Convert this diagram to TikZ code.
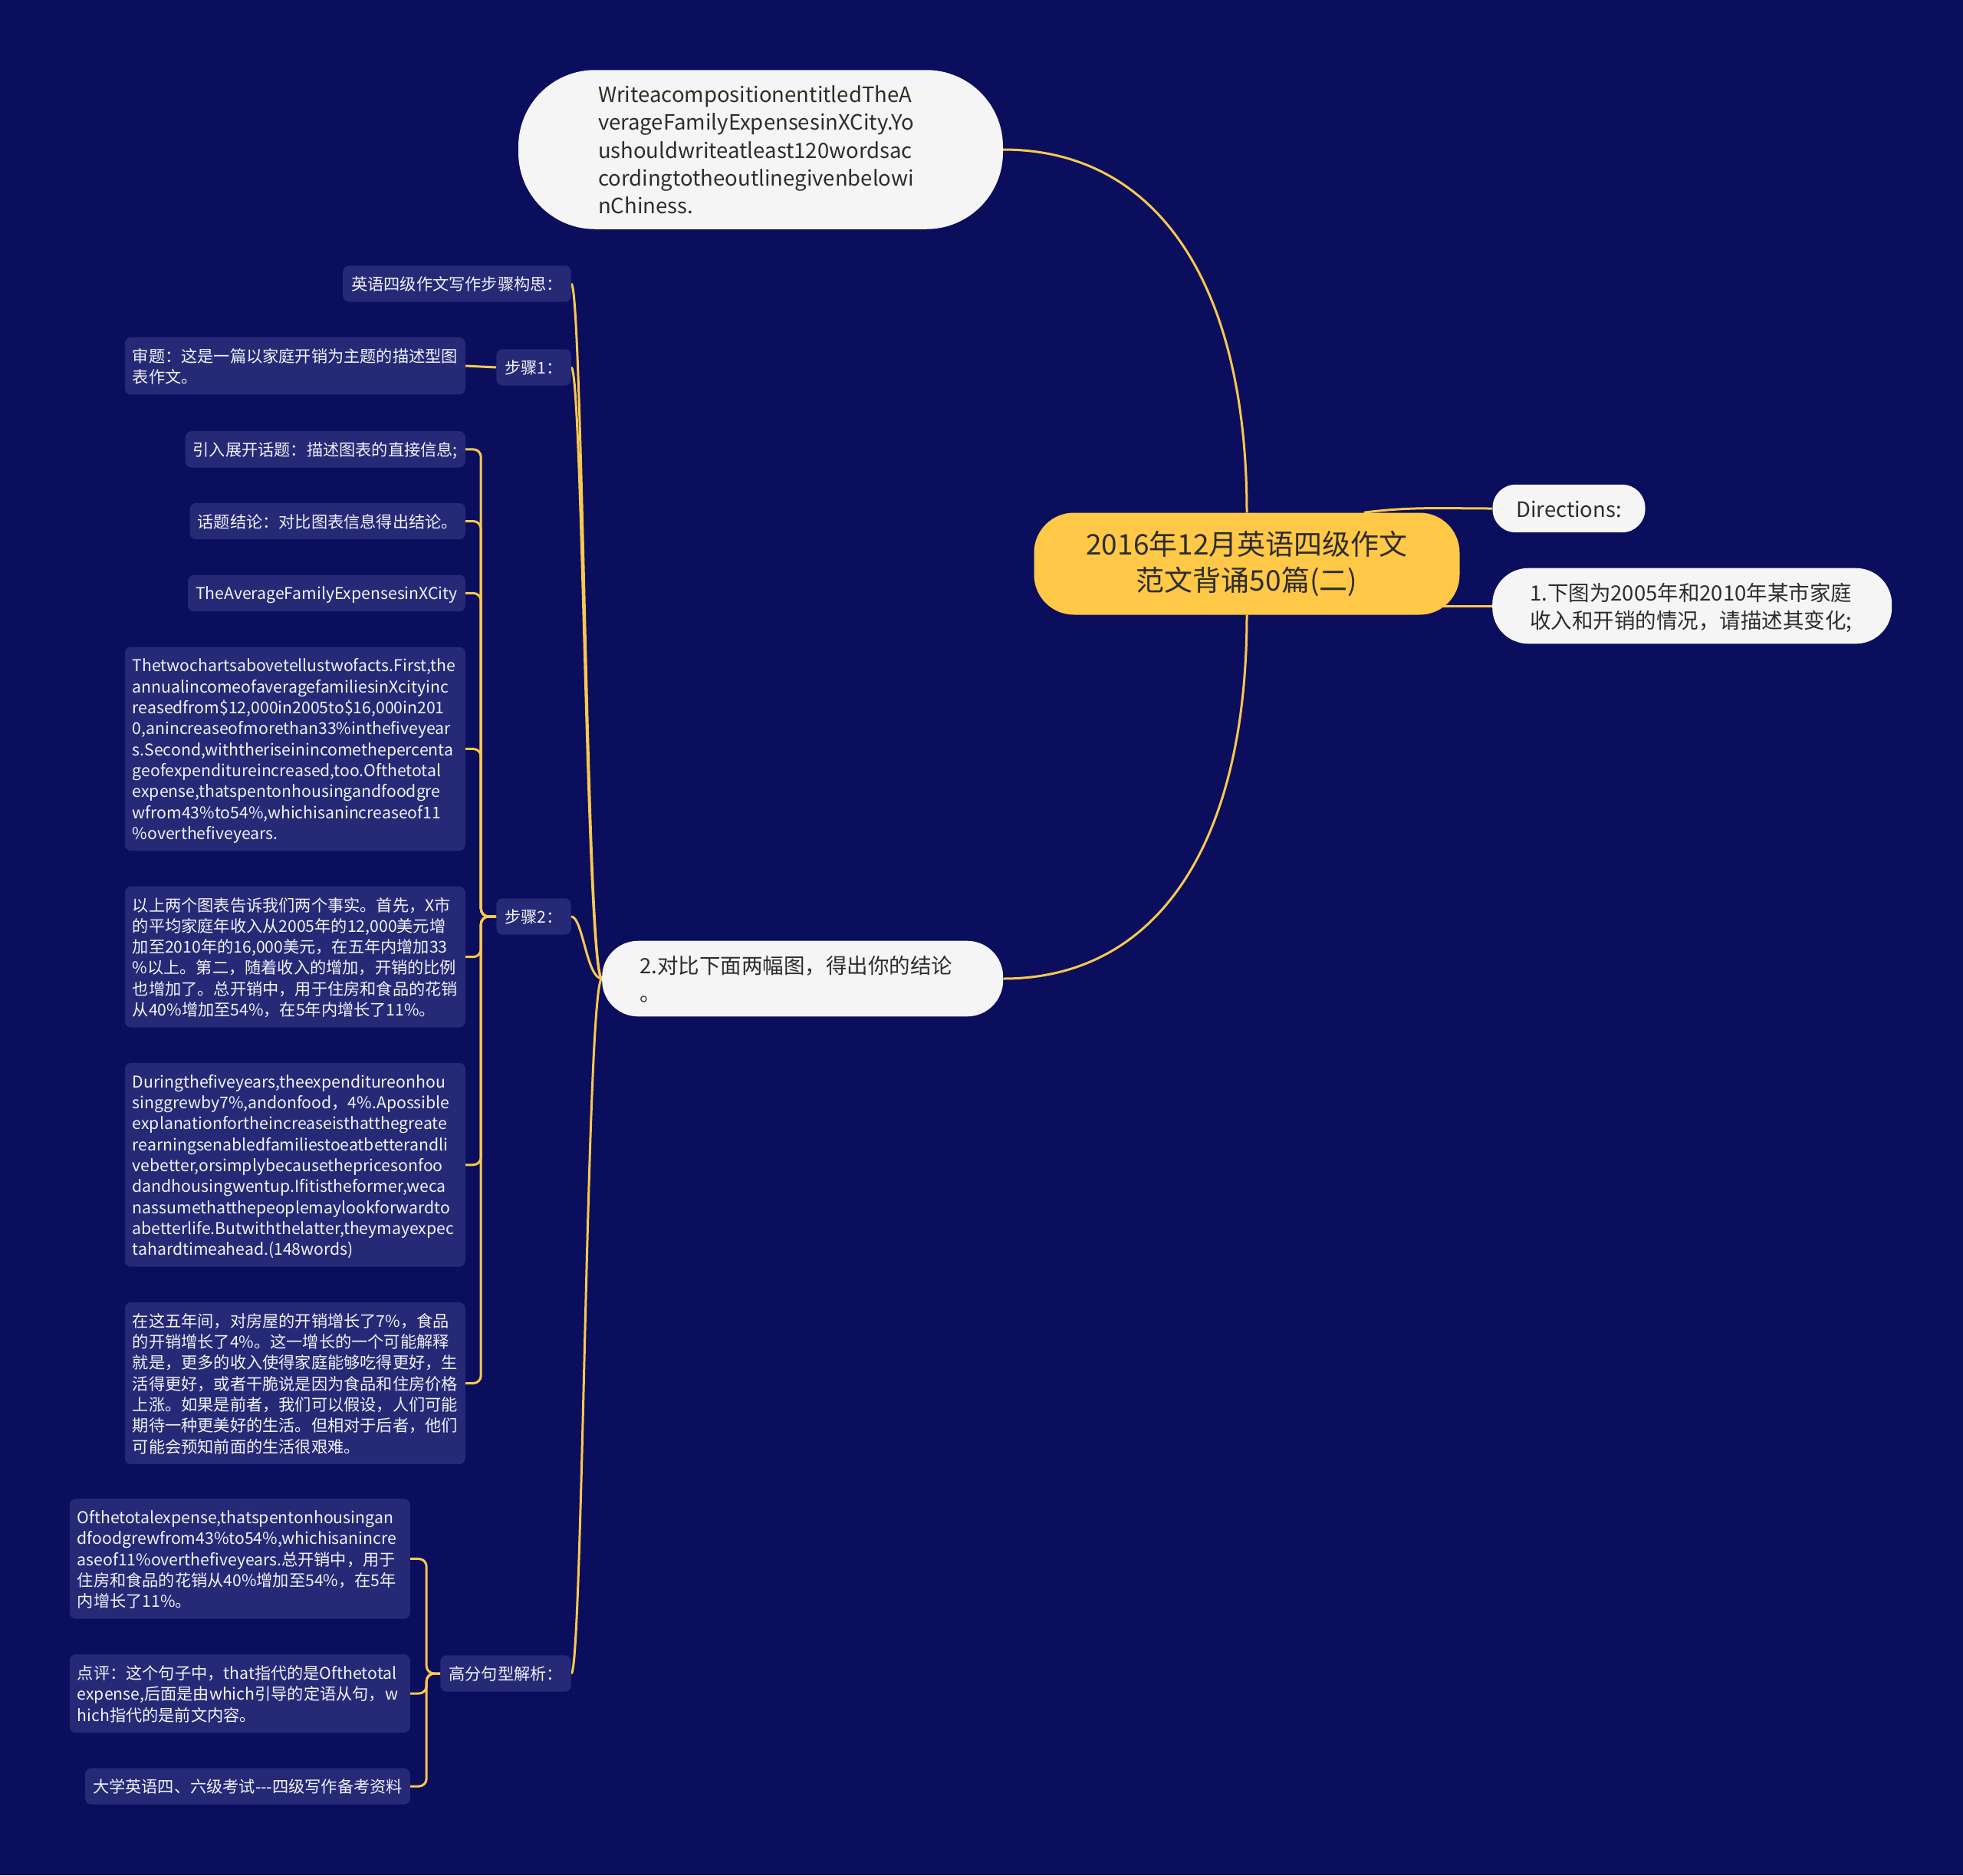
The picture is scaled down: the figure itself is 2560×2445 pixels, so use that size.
\documentclass[tikz,border=0pt]{standalone}
\usepackage{fontspec}
\setmainfont{Noto Sans CJK SC}
\usepackage{xcolor}
\usepackage{tikz}
\usetikzlibrary{positioning,calc}

\definecolor{bgnavy}{RGB}{10,14,92}
\definecolor{leafblue}{RGB}{38,42,118}
\definecolor{linegold}{RGB}{250,200,80}
\definecolor{rootgold}{RGB}{255,200,70}
\definecolor{paper}{RGB}{245,245,245}
\definecolor{ink}{RGB}{45,45,45}
\definecolor{leaftext}{RGB}{242,242,248}

\pgfdeclarelayer{bg}
\pgfdeclarelayer{edges}
\pgfsetlayers{bg,edges,main}

\newcommand{\leaffont}{\fontsize{21.2}{27.3}\selectfont}
\newcommand{\topicfont}{\fontsize{27.5}{36.3}\selectfont}
\newcommand{\rootfont}{\fontsize{37}{47.4}\selectfont}
% struts that sit the glyphs a little lower, as in the picture
\newcommand{\leafstrut}{\rule[-5pt]{0pt}{27.3pt}}
\newcommand{\topicstrut}{\rule[-6.9pt]{0pt}{36.3pt}}
\newcommand{\rootstrut}{\rule[-7.7pt]{0pt}{47.4pt}}
\hyphenpenalty=10000
\exhyphenpenalty=10000

\begin{document}
\begin{tikzpicture}[x=1pt, y=-1pt,
    root_topic/.style={rectangle, fill=rootgold, text=ink, font=\rootfont, align=center, rounded corners=52pt, minimum width=555pt, minimum height=133pt, inner sep=4pt, execute at begin node=\rootstrut, execute at end node=\rootstrut},
    white_topic/.style={rectangle, fill=paper, text=ink, font=\topicfont, align=left, inner ysep=13pt, execute at begin node=\topicstrut, execute at end node=\topicstrut},
    step_head/.style={rectangle, fill=leafblue, text=leaftext, font=\leaffont, rounded corners=8pt, inner xsep=11pt, inner ysep=10pt, anchor=east, execute at begin node=\leafstrut, execute at end node=\leafstrut},
    leaf/.style={rectangle, fill=leafblue, text=leaftext, font=\leaffont, align=left, rounded corners=8pt, inner xsep=10pt, inner ysep=10pt, execute at begin node=\leafstrut, execute at end node=\leafstrut},
    leaf_wide/.style={leaf, text width=424pt},
    line/.style={draw=linegold, line width=3pt},
    line_elbow/.style={line, rounded corners=10pt}]

    \begin{pgfonlayer}{bg}
        \fill [bgnavy] (0,0) rectangle (2560,2445);
    \end{pgfonlayer}

    % Central topic
    \node [root_topic] (root) at (1626,735) {2016年12月英语四级作文\\范文背诵50篇(二)};

    % Right side: directions
    \node [white_topic, minimum width=199pt, rounded corners=30pt] (directions) at (2046,663) {Directions:};
    \node [white_topic, anchor=west, text width=423pt, inner xsep=49pt, rounded corners=47pt] (chart_task) at (1946,790) {1.下图为2005年和2010年某市家庭\\收入和开销的情况，请描述其变化;};

    % Upper and lower topics
    \node [white_topic, text width=424pt, inner xsep=104pt, rounded corners=100pt] (prompt) at (992,195) {WriteacompositionentitledTheA\\verageFamilyExpensesinXCity.Yo\\ushouldwriteatleast120wordsac\\cordingtotheoutlinegivenbelowi\\nChiness.};
    \node [white_topic, anchor=west, text width=425pt, inner xsep=49pt, rounded corners=47pt] (compare_task) at (785,1276) {2.对比下面两幅图，得出你的结论\\。};

    % Left side: writing steps
    \node [step_head] (outline) at (745,370) {英语四级作文写作步骤构思：};
    \node [step_head] (step_one) at (745,479) {步骤1：};
    \node [step_head] (step_two) at (745,1195) {步骤2：};
    \node [step_head] (key_sentence) at (745,2182) {高分句型解析：};

    \node [leaf_wide, anchor=east] (review) at (607,477) {审题：这是一篇以家庭开销为主题的描述型图\\表作文。};

    \node [leaf, anchor=north east] (intro) at (607,562) {引入展开话题：描述图表的直接信息;};
    \node [leaf, below left=46pt and 0pt of intro.south east] (conclusion) {话题结论：对比图表信息得出结论。};
    \node [leaf, below left=46pt and 0pt of conclusion.south east] (title) {TheAverageFamilyExpensesinXCity};
    \node [leaf_wide, below left=46pt and 0pt of title.south east] (essay_en) {Thetwochartsabovetellustwofacts.First,the\\annualincomeofaveragefamiliesinXcityinc\\reasedfrom\$12,000in2005to\$16,000in201\\0,anincreaseofmorethan33\%inthefiveyear\\s.Second,withtheriseinincomethepercenta\\geofexpenditureincreased,too.Ofthetotal\\expense,thatspentonhousingandfoodgre\\wfrom43\%to54\%,whichisanincreaseof11\\\%overthefiveyears.};
    \node [leaf_wide, below left=46pt and 0pt of essay_en.south east] (essay_cn) {以上两个图表告诉我们两个事实。首先，X市\\的平均家庭年收入从2005年的12,000美元增\\加至2010年的16,000美元，在五年内增加33\\\%以上。第二，随着收入的增加，开销的比例\\也增加了。总开销中，用于住房和食品的花销\\从40\%增加至54\%，在5年内增长了11\%。};
    \node [leaf_wide, below left=46pt and 0pt of essay_cn.south east] (more_en) {Duringthefiveyears,theexpenditureonhou\\singgrewby7\%,andonfood，4\%.Apossible\\explanationfortheincreaseisthatthegreate\\rearningsenabledfamiliestoeatbetterandli\\vebetter,orsimplybecausethepricesonfoo\\dandhousingwentup.Ifitistheformer,weca\\nassumethatthepeoplemaylookforwardto\\abetterlife.Butwiththelatter,theymayexpec\\tahardtimeahead.(148words)};
    \node [leaf_wide, below left=46pt and 0pt of more_en.south east] (more_cn) {在这五年间，对房屋的开销增长了7\%，食品\\的开销增长了4\%。这一增长的一个可能解释\\就是，更多的收入使得家庭能够吃得更好，生\\活得更好，或者干脆说是因为食品和住房价格\\上涨。如果是前者，我们可以假设，人们可能\\期待一种更美好的生活。但相对于后者，他们\\可能会预知前面的生活很艰难。};

    \node [leaf_wide, anchor=north east] (sentence_en) at (535,1954) {Ofthetotalexpense,thatspentonhousingan\\dfoodgrewfrom43\%to54\%,whichisanincre\\aseof11\%overthefiveyears.总开销中，用于\\住房和食品的花销从40\%增加至54\%，在5年\\内增长了11\%。};
    \node [leaf_wide, below left=46pt and 0pt of sentence_en.south east] (comment) {点评：这个句子中，that指代的是Ofthetotal\\expense,后面是由which引导的定语从句，w\\hich指代的是前文内容。};
    \node [leaf, below left=46pt and 0pt of comment.south east] (source) {大学英语四、六级考试-{}-{}-四级写作备考资料};

    % Connectors
    \begin{pgfonlayer}{edges}
        \draw [line] (root.north) .. controls +(0,-300) and +(200,0) .. (prompt.east);
        \draw [line] (root.south) .. controls +(0,300) and +(200,0) .. (compare_task.east);
        \draw [line] ($(root.north)!0.55!(root.north east)$) .. controls +(60,-8) and +(-60,0) .. (directions.west);
        \draw [line] (root.center |- chart_task.west) -- (chart_task.west);

        \foreach \child in {outline, step_one, step_two, key_sentence}
            \draw [line] (compare_task.west) .. controls +(-20,0) and +(15,0) .. (\child.east);

        \draw [line] (step_one.west) -- (review.east);

        \foreach \child in {intro, conclusion, title, essay_en, essay_cn, more_en, more_cn}
            \draw [line_elbow] (step_two.west) -- ++(-20,0) |- (\child.east);
        \foreach \child in {sentence_en, comment, source}
            \draw [line_elbow] (key_sentence.west) -- ++(-18,0) |- (\child.east);
    \end{pgfonlayer}
\end{tikzpicture}
\end{document}
